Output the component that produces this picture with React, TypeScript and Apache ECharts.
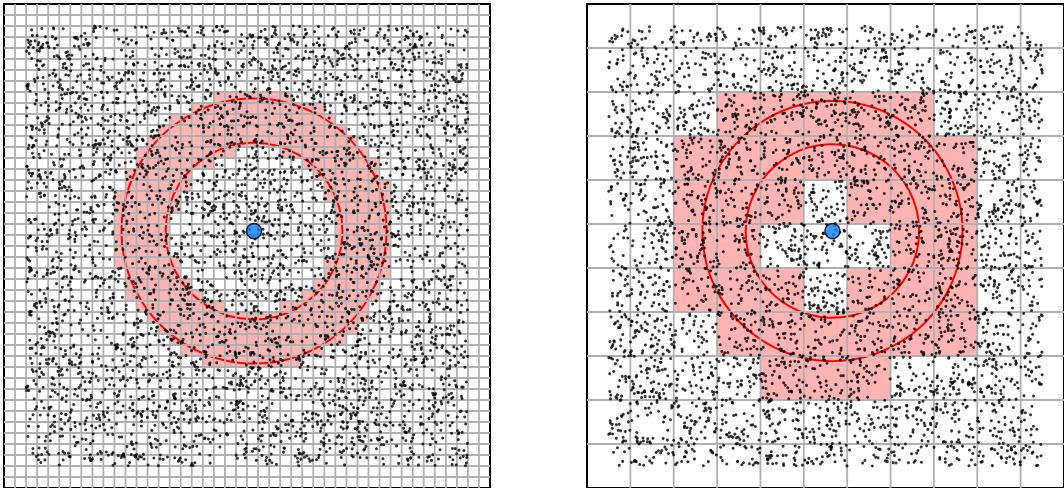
import React, { useEffect, useRef } from "react";
import * as echarts from "echarts";

// ---- data ----
const AXIS_MIN = -0.05;
const AXIS_MAX = 1.05;
const CENTER: [number, number] = [0.516, 0.534];
const RADII = [0.2, 0.3];
const LEFT_CELL = 0.025;
const RIGHT_CELL = 0.1;
const N_POINTS = 4400;
const LEFT_SEED = 12345;
const RIGHT_SEED = 98765;

// shaded coarse cells of the right panel: [x0, y0]
const RIGHT_CELL_ORIGINS: number[][] = [
  [0.25, 0.75], [0.35, 0.75], [0.45, 0.75], [0.55, 0.75], [0.65, 0.75],
  [0.15, 0.65], [0.25, 0.65], [0.35, 0.65], [0.45, 0.65], [0.55, 0.65], [0.65, 0.65], [0.75, 0.65],
  [0.15, 0.55], [0.25, 0.55], [0.35, 0.55], [0.55, 0.55], [0.65, 0.55], [0.75, 0.55],
  [0.15, 0.45], [0.25, 0.45], [0.65, 0.45], [0.75, 0.45],
  [0.15, 0.35], [0.25, 0.35], [0.35, 0.35], [0.55, 0.35], [0.65, 0.35], [0.75, 0.35],
  [0.25, 0.25], [0.35, 0.25], [0.45, 0.25], [0.55, 0.25], [0.65, 0.25], [0.75, 0.25],
  [0.35, 0.15], [0.45, 0.15], [0.55, 0.15],
];

// Uniform scatter (the reference's points are a uniform random sample; a
// seeded generator reproduces that texture deterministically).
function samplePoints(seed: number, n: number): number[][] {
  let s = seed >>> 0;
  const rnd = () => {
    s = (s + 0x6d2b79f5) >>> 0;
    let t = s;
    t = Math.imul(t ^ (t >>> 15), t | 1);
    t ^= t + Math.imul(t ^ (t >>> 7), t | 61);
    return ((t ^ (t >>> 14)) >>> 0) / 4294967296;
  };
  const out: number[][] = [];
  for (let i = 0; i < n; i++) out.push([rnd(), rnd()]);
  return out;
}

const LEFT_POINTS = samplePoints(LEFT_SEED, N_POINTS);
const RIGHT_POINTS = samplePoints(RIGHT_SEED, N_POINTS);

function gridValues(cell: number): number[][] {
  const out: number[][] = [];
  const n = Math.round((AXIS_MAX - AXIS_MIN) / cell);
  for (let i = 1; i < n; i++) {
    const v = AXIS_MIN + i * cell;
    out.push([v, 0]);
    out.push([v, 1]);
  }
  return out;
}

// fine cells that intersect the annulus
function annulusCells(cell: number): number[][] {
  const out: number[][] = [];
  const n = Math.round((AXIS_MAX - AXIS_MIN) / cell);
  const [cx, cy] = CENTER;
  for (let i = 0; i < n; i++) {
    for (let j = 0; j < n; j++) {
      const x0 = AXIS_MIN + i * cell, x1 = x0 + cell;
      const y0 = AXIS_MIN + j * cell, y1 = y0 + cell;
      const dx = Math.max(0, x0 - cx, cx - x1);
      const dy = Math.max(0, y0 - cy, cy - y1);
      const dmin = Math.hypot(dx, dy);
      const fx = Math.max(Math.abs(x0 - cx), Math.abs(x1 - cx));
      const fy = Math.max(Math.abs(y0 - cy), Math.abs(y1 - cy));
      const dmax = Math.hypot(fx, fy);
      if (dmin < RADII[1] && dmax > RADII[0]) out.push([x0, y0, cell]);
    }
  }
  return out;
}

const LEFT_CELLS = annulusCells(LEFT_CELL);
const RIGHT_CELLS = RIGHT_CELL_ORIGINS.map(([x, y]) => [x, y, RIGHT_CELL]);
const LEFT_GRID = gridValues(LEFT_CELL);
const RIGHT_GRID = gridValues(RIGHT_CELL);
const CIRCLES = RADII.map((r) => [CENTER[0], CENTER[1], r]);

function panelSeries(idx: number, cells: number[][], grid: number[][], pts: number[][]): any[] {
  const ax = { xAxisIndex: idx, yAxisIndex: idx };
  return [
    {
      type: "custom",
      ...ax,
      z: 1,
      silent: true,
      data: cells,
      encode: { x: 0, y: 1 },
      renderItem: (_p: any, api: any) => {
        const x0 = api.value(0), y0 = api.value(1), s = api.value(2);
        const a = api.coord([x0, y0 + s]);
        const b = api.coord([x0 + s, y0]);
        return {
          type: "rect",
          shape: { x: a[0], y: a[1], width: b[0] - a[0], height: b[1] - a[1] },
          style: { fill: "#ffb4b4" },
        };
      },
    },
    {
      type: "custom",
      ...ax,
      z: 2,
      silent: true,
      data: CIRCLES,
      encode: { x: 0, y: 1 },
      renderItem: (_p: any, api: any) => {
        const c = api.coord([api.value(0), api.value(1)]);
        const r = api.size([api.value(2), 0])[0];
        return {
          type: "circle",
          shape: { cx: c[0], cy: c[1], r },
          style: { fill: "none", stroke: "#ff0000", lineWidth: 2 },
        };
      },
    },
    {
      type: "custom",
      ...ax,
      z: 3,
      silent: true,
      data: grid,
      encode: { x: 0 },
      renderItem: (_p: any, api: any) => {
        const v = api.value(0), o = api.value(1);
        const a = o === 0 ? api.coord([v, AXIS_MIN]) : api.coord([AXIS_MIN, v]);
        const b = o === 0 ? api.coord([v, AXIS_MAX]) : api.coord([AXIS_MAX, v]);
        return {
          type: "line",
          shape: { x1: a[0], y1: a[1], x2: b[0], y2: b[1] },
          style: { stroke: "#b0b0b0", lineWidth: 1.8 },
        };
      },
    },
    {
      type: "scatter",
      ...ax,
      z: 4,
      silent: true,
      symbolSize: 3,
      itemStyle: { color: "#000000" },
      data: pts,
    },
    {
      type: "scatter",
      ...ax,
      z: 5,
      silent: true,
      symbolSize: 15,
      itemStyle: { color: "#0b7ef8", borderColor: "#000000", borderWidth: 1.5 },
      data: [CENTER],
    },
  ];
}

const axisBase = {
  type: "value",
  min: AXIS_MIN,
  max: AXIS_MAX,
  axisLine: { show: false },
  axisTick: { show: false },
  axisLabel: { show: false },
  splitLine: { show: false },
};

export default function App() {
  const ref = useRef<HTMLDivElement>(null);
  useEffect(() => {
    if (!ref.current) return;
    const chart = echarts.init(ref.current, null, { renderer: "svg" });
    const gridBase = { show: true, borderColor: "#000000", borderWidth: 2, top: 4, width: 486, height: 486 };
    chart.setOption({
      animation: false,
      backgroundColor: "#ffffff",
      grid: [
        { ...gridBase, left: 4 },
        { ...gridBase, left: 587 },
      ],
      xAxis: [
        { ...axisBase, gridIndex: 0 },
        { ...axisBase, gridIndex: 1 },
      ],
      yAxis: [
        { ...axisBase, gridIndex: 0 },
        { ...axisBase, gridIndex: 1 },
      ],
      series: [
        ...panelSeries(0, LEFT_CELLS, LEFT_GRID, LEFT_POINTS),
        ...panelSeries(1, RIGHT_CELLS, RIGHT_GRID, RIGHT_POINTS),
      ],
    });
    return () => chart.dispose();
  }, []);
  return (
    <div
      ref={ref}
      style={{ position: "absolute", left: 0, top: 0, width: 1064, height: 488, overflow: "hidden" }}
    />
  );
}
